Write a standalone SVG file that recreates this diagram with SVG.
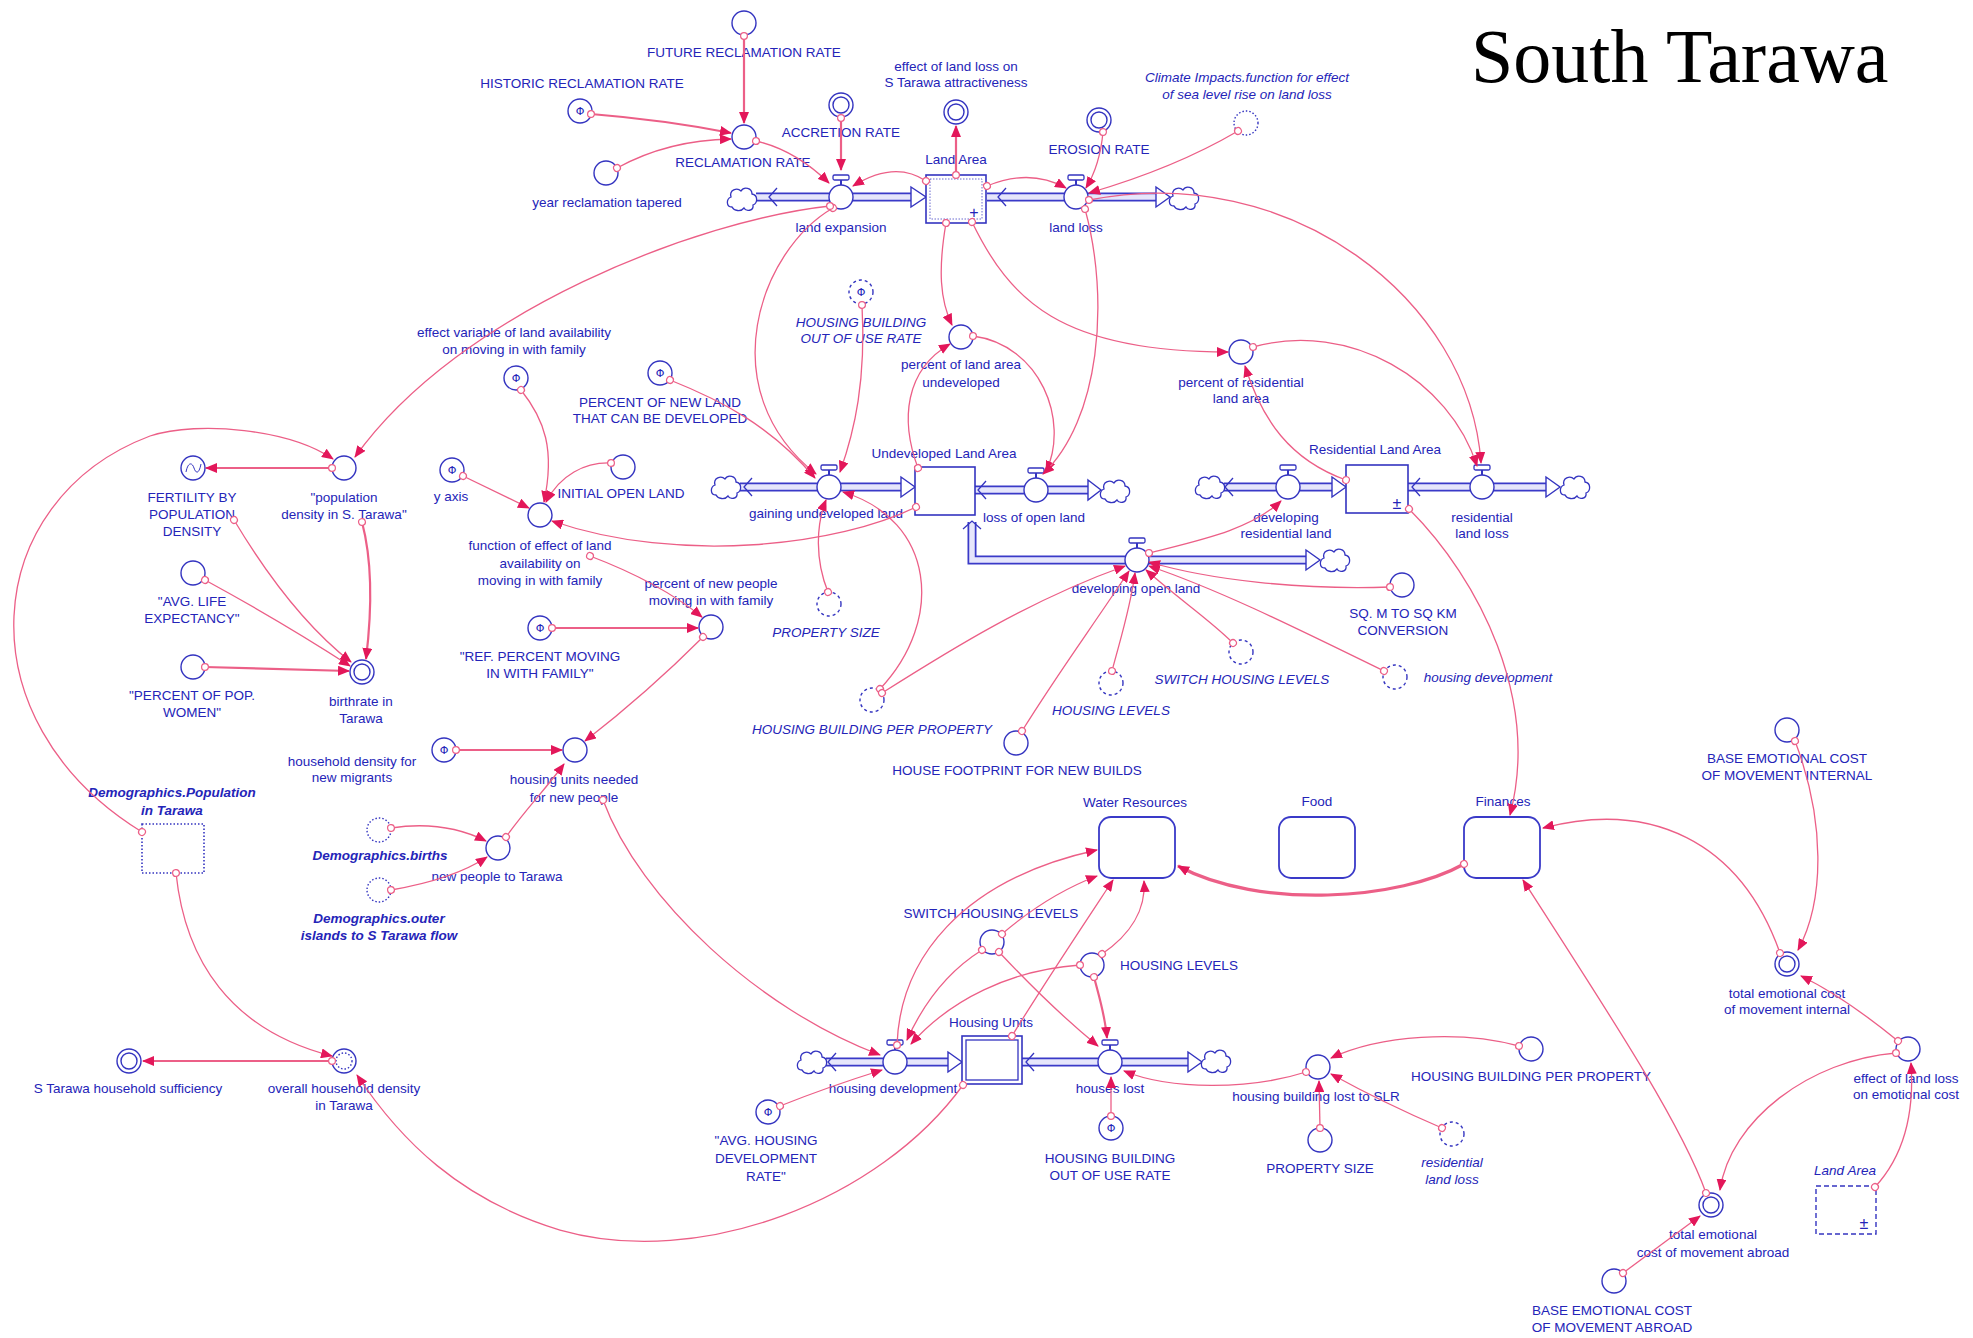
<svg xmlns="http://www.w3.org/2000/svg" width="1973" height="1338" viewBox="0 0 1973 1338">
<style>
.t{font-family:"Liberation Sans",Arial,sans-serif;font-size:13.5px;fill:#2424b8;text-anchor:middle}
.i{font-style:italic}
.b{font-weight:bold}
.phi{font-family:"DejaVu Sans",sans-serif;font-size:11px;fill:#2424b8;text-anchor:middle}
.cv{fill:#fff;stroke:#3434c0;stroke-width:1.4}
.gh{stroke-dasharray:3 3}
.dt{stroke-dasharray:1.5 2}
.stk{fill:#fff;stroke:#3434c0;stroke-width:1.6}
.mod{fill:#fff;stroke:#3a3ac8;stroke-width:1.8}
.po{fill:none;stroke:#3a3ac8;stroke-width:9}
.pi{fill:none;stroke:#e6e6fb;stroke-width:5.5}
.ah{fill:#fff;stroke:#3434c0;stroke-width:1.4}
.ch{fill:none;stroke:#3434c0;stroke-width:1.3}
.cn{fill:none;stroke:#ec5f87;stroke-width:1.3;marker-end:url(#arr);marker-start:url(#src)}
.cw{stroke-width:2.2}
.cx{stroke-width:3.2}
.cld{fill:#fff;stroke:#3434c0;stroke-width:1.3}
.sym{font-family:"Liberation Sans",Arial,sans-serif;font-size:16px;fill:#2424b8;text-anchor:middle}
</style>
<defs>
<marker id="arr" markerUnits="userSpaceOnUse" markerWidth="12" markerHeight="10" refX="11" refY="5" orient="auto"><path d="M0,0 L12,5 L0,10 Z" fill="#e3175a"/></marker>
<marker id="src" markerUnits="userSpaceOnUse" markerWidth="10" markerHeight="10" refX="5" refY="5" orient="auto"><circle cx="5" cy="5" r="3.4" fill="#fff" stroke="#ec5f87" stroke-width="1.2"/></marker>
<path id="cloud" class="cld" d="M-10,8 C-16,8 -16,0 -11,-2 C-13,-9 -5,-12 -1,-8 C2,-13 10,-11 10,-5 C16,-4 16,4 11,6 C12,12 4,13 2,9 C-1,13 -8,12 -10,8 Z"/>
<g id="valve"><path d="M0,-12 V-17" stroke="#3434c0" stroke-width="2"/><rect x="-8" y="-22" width="16" height="5" rx="1.5" fill="#fff" stroke="#3434c0" stroke-width="1.3"/><circle r="12" class="cv"/></g>
</defs>
<rect width="1973" height="1338" fill="#fff"/>
<text x="1471" y="82" font-family="Liberation Serif,'Times New Roman',serif" font-size="76" fill="#000">South Tarawa</text>

<!-- flows -->
<g id="f-land-expansion">
<path class="po" d="M756,197 H913"/><path class="pi" d="M756,197 H913"/>
<polygon class="ah" points="911,187 926,197 911,207"/><polyline class="ch" points="777,188 769,197 777,206"/>
<use href="#cloud" x="742" y="199"/><use href="#valve" x="841" y="197"/>
<text class="t" x="841" y="232">land expansion</text></g>
<g id="f-land-loss">
<path class="po" d="M987,197 H1158"/><path class="pi" d="M987,197 H1158"/>
<polygon class="ah" points="1156,187 1170,197 1156,207"/><polyline class="ch" points="1006,188 998,197 1006,206"/>
<use href="#cloud" x="1184" y="198"/><use href="#valve" x="1076" y="197"/>
<text class="t" x="1076" y="232">land loss</text></g>
<g id="f-gaining">
<path class="po" d="M740,487 H903"/><path class="pi" d="M740,487 H903"/>
<polygon class="ah" points="901,477 915,487 901,497"/><polyline class="ch" points="752,478 744,487 752,496"/>
<use href="#cloud" x="726" y="487"/><use href="#valve" x="829" y="487"/>
<text class="t" x="826" y="518">gaining undeveloped land</text></g>
<g id="f-loss-open">
<path class="po" d="M975,490 H1090"/><path class="pi" d="M975,490 H1090"/>
<polygon class="ah" points="1088,480 1101,490 1088,500"/><polyline class="ch" points="986,481 978,490 986,499"/>
<use href="#cloud" x="1115" y="491"/><use href="#valve" x="1036" y="490"/>
<text class="t" x="1034" y="522">loss of open land</text></g>
<g id="f-dev-open">
<path class="po" d="M972,522 V560 H1308"/><path class="pi" d="M972,522 V560 H1308"/>
<polygon class="ah" points="1306,550 1320,560 1306,570"/><polyline class="ch" points="963,529 972,521 981,529"/>
<use href="#cloud" x="1335" y="560"/><use href="#valve" x="1137" y="560"/>
<text class="t" x="1136" y="593">developing open land</text></g>
<g id="f-dev-res">
<path class="po" d="M1224,487 H1334"/><path class="pi" d="M1224,487 H1334"/>
<polygon class="ah" points="1332,477 1346,487 1332,497"/><polyline class="ch" points="1233,478 1225,487 1233,496"/>
<use href="#cloud" x="1210" y="487"/><use href="#valve" x="1288" y="487"/>
<text class="t" x="1286" y="522">developing<tspan x="1286" dy="16">residential land</tspan></text></g>
<g id="f-res-loss">
<path class="po" d="M1408,487 H1548"/><path class="pi" d="M1408,487 H1548"/>
<polygon class="ah" points="1546,477 1560,487 1546,497"/><polyline class="ch" points="1420,478 1412,487 1420,496"/>
<use href="#cloud" x="1575" y="487"/><use href="#valve" x="1482" y="487"/>
<text class="t" x="1482" y="522">residential<tspan x="1482" dy="16">land loss</tspan></text></g>
<g id="f-housing-dev">
<path class="po" d="M826,1062 H950"/><path class="pi" d="M826,1062 H950"/>
<polygon class="ah" points="948,1052 962,1062 948,1072"/><polyline class="ch" points="836,1053 828,1062 836,1071"/>
<use href="#cloud" x="812" y="1062"/><use href="#valve" x="895" y="1062"/>
<text class="t" x="893" y="1093">housing development</text></g>
<g id="f-houses-lost">
<path class="po" d="M1022,1062 H1190"/><path class="pi" d="M1022,1062 H1190"/>
<polygon class="ah" points="1188,1052 1202,1062 1188,1072"/><polyline class="ch" points="1034,1053 1026,1062 1034,1071"/>
<use href="#cloud" x="1216" y="1061"/><use href="#valve" x="1110" y="1062"/>
<text class="t" x="1110" y="1093">houses lost</text></g>

<!-- stocks -->
<g id="s-land-area"><rect class="stk" x="926" y="175" width="60" height="48"/><rect x="930" y="179" width="52" height="40" fill="none" stroke="#6a6ad0" stroke-width="1" stroke-dasharray="1.5 1.5"/><text class="sym" x="974" y="218">+</text><text class="t" x="956" y="164">Land Area</text></g>
<g id="s-undeveloped"><rect class="stk" x="915" y="467" width="60" height="48"/><text class="t" x="944" y="458">Undeveloped Land Area</text></g>
<g id="s-residential"><rect class="stk" x="1346" y="465" width="62" height="48"/><text class="sym" x="1397" y="509">±</text><text class="t" x="1375" y="454">Residential Land Area</text></g>
<g id="s-housing-units"><rect class="stk" x="962" y="1036" width="60" height="48"/><rect x="966" y="1040" width="52" height="40" fill="none" stroke="#3434c0" stroke-width="1.3"/><text class="t" x="991" y="1027">Housing Units</text></g>
<g id="s-demo-pop"><rect x="142" y="824" width="62" height="49" fill="#fff" stroke="#3434c0" stroke-width="1.6" stroke-dasharray="1.5 2"/><text class="t i b" x="172" y="797">Demographics.Population<tspan x="172" dy="18">in Tarawa</tspan></text></g>
<g id="s-land-area-ghost"><rect x="1816" y="1186" width="60" height="48" fill="#fff" stroke="#3434c0" stroke-width="1.4" stroke-dasharray="5 3"/><text class="sym" x="1864" y="1229">±</text><text class="t i" x="1845" y="1175">Land Area</text></g>

<!-- modules -->
<g id="m-water"><rect class="mod" x="1099" y="817" width="76" height="61" rx="12"/><text class="t" x="1135" y="807">Water Resources</text></g>
<g id="m-food"><rect class="mod" x="1279" y="817" width="76" height="61" rx="12"/><text class="t" x="1317" y="806">Food</text></g>
<g id="m-finances"><rect class="mod" x="1464" y="817" width="76" height="61" rx="12"/><text class="t" x="1503" y="806">Finances</text></g>

<!-- converters -->
<g id="c-frr"><circle class="cv" cx="744" cy="23" r="12"/><text class="t" x="744" y="57">FUTURE RECLAMATION RATE</text></g>
<g id="c-hrr"><circle class="cv" cx="580" cy="111" r="12"/><text class="phi" x="580" y="115">Φ</text><text class="t" x="582" y="88">HISTORIC RECLAMATION RATE</text></g>
<g id="c-year"><circle class="cv" cx="606" cy="173" r="12"/><text class="t" x="607" y="207">year reclamation tapered</text></g>
<g id="c-rr"><circle class="cv" cx="744" cy="137" r="12"/><text class="t" x="743" y="167">RECLAMATION RATE</text></g>
<g id="c-accretion"><circle class="cv" cx="841" cy="105" r="12"/><circle class="cv" cx="841" cy="105" r="8"/><text class="t" x="841" y="137">ACCRETION RATE</text></g>
<g id="c-attract"><circle class="cv" cx="956" cy="112" r="12"/><circle class="cv" cx="956" cy="112" r="8"/><text class="t" x="956" y="71">effect of land loss on<tspan x="956" dy="16">S Tarawa attractiveness</tspan></text></g>
<g id="c-erosion"><circle class="cv" cx="1099" cy="120" r="12"/><circle class="cv" cx="1099" cy="120" r="8"/><text class="t" x="1099" y="154">EROSION RATE</text></g>
<g id="c-climate"><circle class="cv dt" cx="1246" cy="123" r="12"/><text class="t i" x="1247" y="82">Climate Impacts.function for effect<tspan x="1247" dy="17">of sea level rise on land loss</tspan></text></g>
<g id="c-hbour-top"><circle class="cv gh" cx="861" cy="292" r="12"/><text class="phi" x="861" y="296">Φ</text><text class="t i" x="861" y="327">HOUSING BUILDING<tspan x="861" dy="16">OUT OF USE RATE</tspan></text></g>
<g id="c-pct-undev"><circle class="cv" cx="961" cy="337" r="12"/><text class="t" x="961" y="369">percent of land area<tspan x="961" dy="18">undeveloped</tspan></text></g>
<g id="c-pct-res"><circle class="cv" cx="1241" cy="352" r="12"/><text class="t" x="1241" y="387">percent of residential<tspan x="1241" dy="16">land area</tspan></text></g>
<g id="c-pct-new-land"><circle class="cv" cx="660" cy="373" r="12"/><text class="phi" x="660" y="377">Φ</text><text class="t" x="660" y="407">PERCENT OF NEW LAND<tspan x="660" dy="16">THAT CAN BE DEVELOPED</tspan></text></g>
<g id="c-effect-var"><circle class="cv" cx="516" cy="378" r="12"/><text class="phi" x="516" y="382">Φ</text><text class="t" x="514" y="337">effect variable of land availability<tspan x="514" dy="17">on moving in with family</tspan></text></g>
<g id="c-fertility"><circle class="cv" cx="193" cy="468" r="12"/><path d="M186,472 C188,462 192,462 194,468 S199,474 201,464" fill="none" stroke="#3434c0" stroke-width="1"/><text class="t" x="192" y="502">FERTILITY BY<tspan x="192" dy="17">POPULATION</tspan><tspan x="192" dy="17">DENSITY</tspan></text></g>
<g id="c-pop-density"><circle class="cv" cx="344" cy="468" r="12"/><text class="t" x="344" y="502">"population<tspan x="344" dy="17">density in S. Tarawa"</tspan></text></g>
<g id="c-yaxis"><circle class="cv" cx="452" cy="470" r="12"/><text class="phi" x="452" y="474">Φ</text><text class="t" x="451" y="501">y axis</text></g>
<g id="c-initial-open"><circle class="cv" cx="623" cy="467" r="12"/><text class="t" x="621" y="498">INITIAL OPEN LAND</text></g>
<g id="c-function"><circle class="cv" cx="540" cy="515" r="12"/><text class="t" x="540" y="550">function of effect of land<tspan x="540" dy="18">availability on</tspan><tspan x="540" dy="17">moving in with family</tspan></text></g>
<g id="c-pct-new-people"><circle class="cv" cx="711" cy="627" r="12"/><text class="t" x="711" y="588">percent of new people<tspan x="711" dy="17">moving in with family</tspan></text></g>
<g id="c-life"><circle class="cv" cx="193" cy="573" r="12"/><text class="t" x="192" y="606">"AVG. LIFE<tspan x="192" dy="17">EXPECTANCY"</tspan></text></g>
<g id="c-women"><circle class="cv" cx="193" cy="667" r="12"/><text class="t" x="192" y="700">"PERCENT OF POP.<tspan x="192" dy="17">WOMEN"</tspan></text></g>
<g id="c-birthrate"><circle class="cv" cx="362" cy="672" r="12"/><circle class="cv" cx="362" cy="672" r="8"/><text class="t" x="361" y="706">birthrate in<tspan x="361" dy="17">Tarawa</tspan></text></g>
<g id="c-ref-pct"><circle class="cv" cx="540" cy="628" r="12"/><text class="phi" x="540" y="632">Φ</text><text class="t" x="540" y="661">"REF. PERCENT MOVING<tspan x="540" dy="17">IN WITH FAMILY"</tspan></text></g>
<g id="c-hh-density"><circle class="cv" cx="444" cy="750" r="12"/><text class="phi" x="444" y="754">Φ</text><text class="t" x="352" y="766">household density for<tspan x="352" dy="16">new migrants</tspan></text></g>
<g id="c-units-needed"><circle class="cv" cx="575" cy="750" r="12"/><text class="t" x="574" y="784">housing units needed<tspan x="574" dy="18">for new people</tspan></text></g>
<g id="c-demo-births"><circle class="cv dt" cx="379" cy="830" r="12"/><text class="t i b" x="380" y="860">Demographics.births</text></g>
<g id="c-new-people"><circle class="cv" cx="498" cy="848" r="12"/><text class="t" x="497" y="881">new people to Tarawa</text></g>
<g id="c-demo-outer"><circle class="cv dt" cx="379" cy="890" r="12"/><text class="t i b" x="379" y="923">Demographics.outer<tspan x="379" dy="17">islands to S Tarawa flow</tspan></text></g>
<g id="c-overall-hh"><circle class="cv" cx="344" cy="1061" r="12"/><circle class="cv dt" cx="344" cy="1061" r="8"/><text class="t" x="344" y="1093">overall household density<tspan x="344" dy="17">in Tarawa</tspan></text></g>
<g id="c-sufficiency"><circle class="cv" cx="129" cy="1061" r="12"/><circle class="cv" cx="129" cy="1061" r="8"/><text class="t" x="128" y="1093">S Tarawa household sufficiency</text></g>
<g id="c-property-size-top"><circle class="cv gh" cx="829" cy="604" r="12"/><text class="t i" x="826" y="637">PROPERTY SIZE</text></g>
<g id="c-hbpp-top"><circle class="cv gh" cx="872" cy="700" r="12"/><text class="t i" x="872" y="734">HOUSING BUILDING PER PROPERTY</text></g>
<g id="c-footprint"><circle class="cv" cx="1016" cy="743" r="12"/><text class="t" x="1017" y="775">HOUSE FOOTPRINT FOR NEW BUILDS</text></g>
<g id="c-housing-levels-top"><circle class="cv gh" cx="1111" cy="683" r="12"/><text class="t i" x="1111" y="715">HOUSING LEVELS</text></g>
<g id="c-switch-top"><circle class="cv gh" cx="1241" cy="652" r="12"/><text class="t i" x="1242" y="684">SWITCH HOUSING LEVELS</text></g>
<g id="c-housing-dev-ghost"><circle class="cv gh" cx="1395" cy="677" r="12"/><text class="t i" x="1488" y="682">housing development</text></g>
<g id="c-sqm"><circle class="cv" cx="1402" cy="585" r="12"/><text class="t" x="1403" y="618">SQ. M TO SQ KM<tspan x="1403" dy="17">CONVERSION</tspan></text></g>
<g id="c-base-internal"><circle class="cv" cx="1787" cy="730" r="12"/><text class="t" x="1787" y="763">BASE EMOTIONAL COST<tspan x="1787" dy="17">OF MOVEMENT INTERNAL</tspan></text></g>
<g id="c-switch-bottom"><circle class="cv" cx="992" cy="942" r="12"/><text class="t" x="991" y="918">SWITCH HOUSING LEVELS</text></g>
<g id="c-housing-levels-bottom"><circle class="cv" cx="1092" cy="965" r="12"/><text class="t" x="1179" y="970">HOUSING LEVELS</text></g>
<g id="c-avg-housing"><circle class="cv" cx="768" cy="1112" r="12"/><text class="phi" x="768" y="1116">Φ</text><text class="t" x="766" y="1145">"AVG. HOUSING<tspan x="766" dy="18">DEVELOPMENT</tspan><tspan x="766" dy="18">RATE"</tspan></text></g>
<g id="c-hbour-bottom"><circle class="cv" cx="1111" cy="1128" r="12"/><text class="phi" x="1111" y="1132">Φ</text><text class="t" x="1110" y="1163">HOUSING BUILDING<tspan x="1110" dy="17">OUT OF USE RATE</tspan></text></g>
<g id="c-lost-slr"><circle class="cv" cx="1318" cy="1067" r="12"/><text class="t" x="1316" y="1101">housing building lost to SLR</text></g>
<g id="c-hbpp-bottom"><circle class="cv" cx="1531" cy="1049" r="12"/><text class="t" x="1531" y="1081">HOUSING BUILDING PER PROPERTY</text></g>
<g id="c-property-size-bottom"><circle class="cv" cx="1320" cy="1140" r="12"/><text class="t" x="1320" y="1173">PROPERTY SIZE</text></g>
<g id="c-res-land-loss-ghost"><circle class="cv gh" cx="1452" cy="1134" r="12"/><text class="t i" x="1452" y="1167">residential<tspan x="1452" dy="17">land loss</tspan></text></g>
<g id="c-total-internal"><circle class="cv" cx="1787" cy="964" r="12"/><circle class="cv" cx="1787" cy="964" r="8"/><text class="t" x="1787" y="998">total emotional cost<tspan x="1787" dy="16">of movement internal</tspan></text></g>
<g id="c-effect-emotional"><circle class="cv" cx="1908" cy="1049" r="12"/><text class="t" x="1906" y="1083">effect of land loss<tspan x="1906" dy="16">on emotional cost</tspan></text></g>
<g id="c-total-abroad"><circle class="cv" cx="1711" cy="1205" r="12"/><circle class="cv" cx="1711" cy="1205" r="8"/><text class="t" x="1713" y="1239">total emotional<tspan x="1713" dy="18">cost of movement abroad</tspan></text></g>
<g id="c-base-abroad"><circle class="cv" cx="1614" cy="1281" r="12"/><text class="t" x="1612" y="1315">BASE EMOTIONAL COST<tspan x="1612" dy="17">OF MOVEMENT ABROAD</tspan></text></g>

<!-- connectors -->
<g id="connectors">
<path class="cn cw" d="M744,36 L744,123"/>
<path class="cn cw" d="M591,114 Q665,120 731,133"/>
<path class="cn" d="M617,168 Q668,140 731,139"/>
<path class="cn" d="M756,141 Q795,150 829,183"/>
<path class="cn cw" d="M841,118 L841,170"/>
<path class="cn" d="M926,181 Q895,160 853,186"/>
<path class="cn cw" d="M956,175 L956,126"/>
<path class="cn" d="M987,186 Q1030,168 1066,188"/>
<path class="cn" d="M1103,132 Q1100,165 1086,188"/>
<path class="cn" d="M1238,131 Q1175,168 1089,193"/>
<path class="cn" d="M1089,200 C1290,160 1470,300 1481,463"/>
<path class="cn" d="M972,222 C1010,300 1060,352 1228,352"/>
<path class="cn" d="M946,223 C938,270 940,300 952,325"/>
<path class="cn" d="M918,468 C900,420 905,370 950,344"/>
<path class="cn" d="M973,336 C1040,345 1070,420 1046,472"/>
<path class="cn" d="M1085,209 C1110,300 1100,420 1043,474"/>
<path class="cn" d="M833,208 C760,250 710,390 816,474"/>
<path class="cn" d="M830,206 C700,220 460,310 355,457"/>
<path class="cn" d="M862,305 C866,380 855,430 840,472"/>
<path class="cn" d="M670,380 C720,400 770,425 815,478"/>
<path class="cn" d="M828,592 C815,560 816,525 826,500"/>
<path class="cn" d="M880,689 C945,620 935,520 843,492"/>
<path class="cn" d="M882,693 C950,650 1030,600 1125,566"/>
<path class="cn" d="M1022,731 C1060,670 1090,630 1129,571"/>
<path class="cn" d="M1112,671 C1120,640 1130,610 1135,573"/>
<path class="cn" d="M1233,643 C1210,620 1180,600 1146,570"/>
<path class="cn" d="M1384,671 C1300,630 1220,590 1149,566"/>
<path class="cn" d="M1390,587 C1300,590 1210,580 1149,562"/>
<path class="cn" d="M1149,553 C1200,540 1250,530 1281,501"/>
<path class="cn" d="M1253,347 C1350,320 1450,380 1477,466"/>
<path class="cn" d="M1346,480 C1290,460 1262,420 1245,366"/>
<path class="cn" d="M1409,509 C1480,580 1540,700 1510,815"/>
<path class="cn" d="M916,507 C840,545 680,565 552,521"/>
<path class="cn" d="M463,476 L529,508"/>
<path class="cn" d="M611,463 C585,462 560,475 546,502"/>
<path class="cn" d="M521,390 C545,420 555,450 544,502"/>
<path class="cn" d="M590,556 C640,575 675,595 702,617"/>
<path class="cn cw" d="M552,628 L698,628"/>
<path class="cn" d="M703,637 C660,680 625,710 585,741"/>
<path class="cn cw" d="M456,750 L562,750"/>
<path class="cn" d="M506,837 C525,810 545,790 564,764"/>
<path class="cn" d="M391,828 C430,822 460,828 486,841"/>
<path class="cn" d="M391,890 C420,885 460,875 487,857"/>
<path class="cn" d="M603,800 C640,900 760,1010 880,1055"/>
<path class="cn cw" d="M332,468 L206,468"/>
<path class="cn cw" d="M362,522 C372,560 372,610 366,659"/>
<path class="cn" d="M234,520 C270,580 310,630 351,662"/>
<path class="cn" d="M205,580 C260,610 310,640 350,666"/>
<path class="cn cw" d="M205,667 L349,671"/>
<path class="cn" d="M142,832 C-40,720 -20,500 150,436 C200,420 290,430 333,459"/>
<path class="cn" d="M176,873 C185,960 230,1030 332,1056"/>
<path class="cn cw" d="M332,1061 L143,1061"/>
<path class="cn" d="M963,1085 C880,1200 700,1270 560,1230 C460,1200 400,1140 357,1075"/>
<path class="cn" d="M780,1106 C820,1090 850,1080 882,1070"/>
<path class="cn" d="M982,950 C950,970 925,1000 907,1040"/>
<path class="cn" d="M1080,965 C1010,970 950,1000 911,1044"/>
<path class="cn" d="M897,1045 C900,960 960,880 1097,850"/>
<path class="cn" d="M1002,934 C1030,910 1060,890 1097,876"/>
<path class="cn" d="M1012,1036 C1040,990 1080,930 1113,880"/>
<path class="cn" d="M1102,954 C1130,935 1146,910 1144,881"/>
<path class="cn cw" d="M1094,977 C1100,1000 1105,1015 1107,1038"/>
<path class="cn" d="M999,952 C1030,985 1060,1015 1098,1046"/>
<path class="cn" d="M1111,1116 L1111,1077"/>
<path class="cn" d="M1306,1072 C1250,1090 1170,1090 1124,1071"/>
<path class="cn" d="M1519,1046 C1460,1030 1380,1035 1331,1058"/>
<path class="cn" d="M1320,1128 L1319,1081"/>
<path class="cn" d="M1442,1128 C1400,1110 1360,1090 1331,1074"/>
<path class="cn cx" d="M1464,864 C1400,900 1260,910 1178,866"/>
<path class="cn" d="M1780,953 C1740,840 1650,800 1543,828"/>
<path class="cn" d="M1795,741 C1825,820 1825,900 1798,950"/>
<path class="cn" d="M1898,1041 C1860,1010 1830,990 1801,976"/>
<path class="cn" d="M1896,1053 C1810,1060 1730,1120 1720,1190"/>
<path class="cn" d="M1875,1187 C1900,1160 1915,1120 1911,1063"/>
<path class="cn" d="M1706,1193 C1680,1120 1600,1000 1523,880"/>
<path class="cn" d="M1623,1273 L1700,1216"/>
</g>
</svg>
